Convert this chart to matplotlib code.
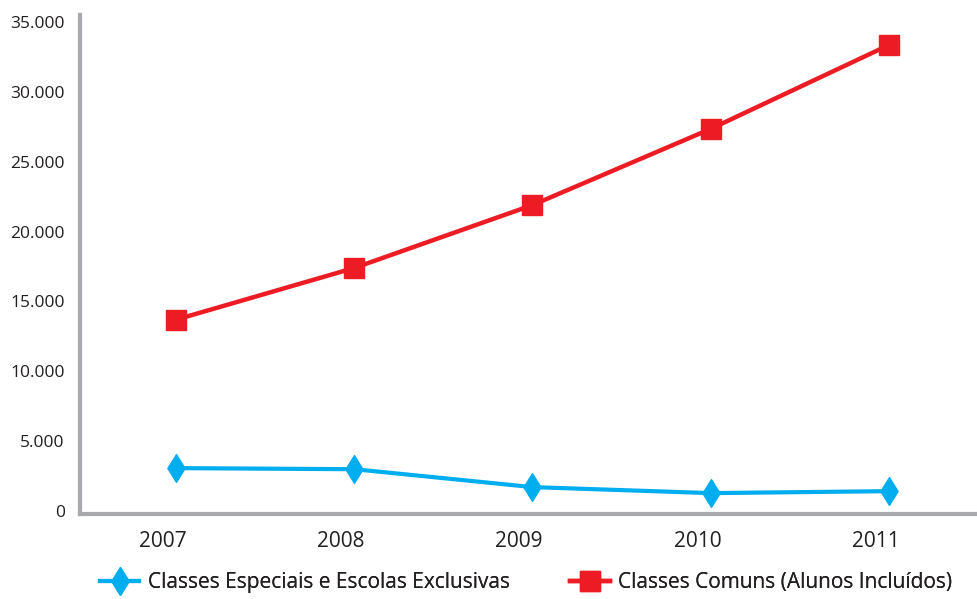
import matplotlib.pyplot as plt
from matplotlib.ticker import FuncFormatter
from matplotlib.path import Path

plt.rcParams['font.family'] = ['Open Sans', 'DejaVu Sans']

anos = ["2007", "2008", "2009", "2010", "2011"]
especiais = [3080, 3000, 1720, 1290, 1430]
comuns = [13700, 17400, 21900, 27350, 33350]

azul = "#00aeef"
vermelho = "#ed1c24"
cinza = "#a7a9ac"

# losango mais largo que o 'd' padrao
losango = Path([(0, 1), (0.62, 0), (0, -1), (-0.62, 0), (0, 1)],
               [Path.MOVETO, Path.LINETO, Path.LINETO, Path.LINETO, Path.CLOSEPOLY])

fig = plt.figure(figsize=(9.78, 5.99), dpi=100)
ax = fig.add_axes([0.0818, 0.142, 0.9182, 0.833])

x = list(range(len(anos)))
l1, = ax.plot(x, especiais, color=azul, lw=3, marker=losango, markersize=20,
              label="Classes Especiais e Escolas Exclusivas")
l2, = ax.plot(x, comuns, color=vermelho, lw=3.2, marker="s", markersize=15,
              label="Classes Comuns (Alunos Incluídos)")

ax.set_xlim(-0.539, 4.5)
ax.set_ylim(-200, 35500)
# rotulos dos anos um pouco a esquerda dos pontos
ax.set_xticks([i - 0.075 for i in x])
ax.set_xticklabels(anos, fontsize=15, color="#231f20")
ax.set_yticks(range(0, 35001, 5000))
ax.yaxis.set_major_formatter(FuncFormatter(lambda v, p: f"{int(v):,}".replace(",", ".")))
ax.tick_params(axis="y", labelsize=12.5, colors="#231f20", length=0, pad=11)
ax.tick_params(axis="x", length=0, pad=12)

for s in ["top", "right"]:
    ax.spines[s].set_visible(False)
for s in ["left", "bottom"]:
    ax.spines[s].set_color(cinza)
    ax.spines[s].set_linewidth(3)

for linha, xpos in [(l1, 0.102), (l2, 0.583)]:
    leg = fig.legend(handles=[linha], loc="center left", bbox_to_anchor=(xpos, 0.027),
                     frameon=False, fontsize=15, handlelength=1.9, borderpad=0,
                     borderaxespad=0, handletextpad=0.4, labelcolor="#231f20")
    fig.add_artist(leg)

fig.savefig("out.png", dpi=100)
